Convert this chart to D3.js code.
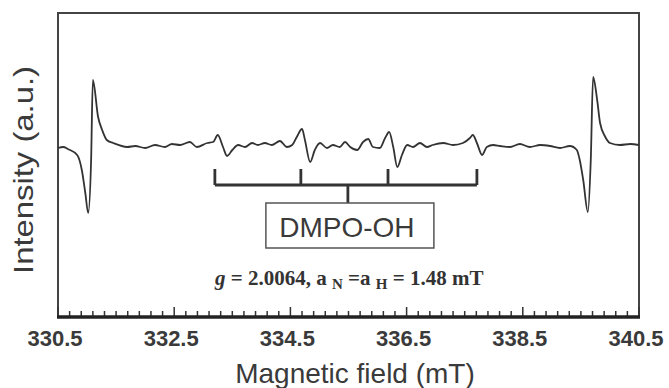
<!DOCTYPE html>
<html>
<head>
<meta charset="utf-8">
<script src="https://cdn.jsdelivr.net/npm/d3@7"></script>
<style>
  body { margin: 0; background: #fff; }
  svg { display: block; }
</style>
</head>
<body>
<svg id="chart"></svg>
<script>
// spectrum: field (mT) and intensity (a.u.)
var field = [330.50, 330.59, 330.67, 330.83, 330.91, 330.97, 331.02, 331.07, 331.10, 331.19,
  331.26, 331.34, 331.45, 331.69, 331.83, 332.00, 332.17, 332.34, 332.46, 332.60,
  332.77, 332.89, 333.07, 333.17, 333.25, 333.34, 333.41, 333.50, 333.60, 333.72,
  333.84, 333.94, 334.06, 334.18, 334.32, 334.44, 334.53, 334.61, 334.70, 334.75,
  334.84, 334.92, 335.01, 335.13, 335.23, 335.35, 335.44, 335.53, 335.65, 335.75,
  335.84, 335.92, 336.04, 336.13, 336.20, 336.27, 336.34, 336.42, 336.51, 336.61,
  336.73, 336.85, 336.95, 337.13, 337.30, 337.47, 337.59, 337.64, 337.71, 337.80,
  337.88, 337.99, 338.11, 338.28, 338.45, 338.62, 338.80, 338.97, 339.14, 339.31,
  339.43, 339.48, 339.54, 339.62, 339.67, 339.71, 339.78, 339.83, 339.92, 340.00,
  340.17, 340.35, 340.50];
var intensity = [-0.1, 0.0, -0.2, -0.8, -2.3, -4.6, -6.6, -1.3, 6.7, 3.0,
  1.7, 0.7, 0.4, 0.0, 0.1, -0.1, 0.2, 0.0, 0.3, 0.2,
  0.5, 0.0, 0.4, 0.5, 1.2, 0.0, -0.9, -0.3, 0.2, 0.0,
  0.4, 0.2, 0.4, 0.2, 0.6, 0.0, 0.2, 1.0, 1.8, 0.7,
  -1.5, -0.3, 0.4, -0.1, 0.2, 0.0, 0.5, 0.0, -0.3, 0.5,
  0.8, 0.0, -0.1, 0.9, 1.5, 0.0, -2.0, -0.8, 0.2, 0.0,
  0.4, 0.0, 0.2, 0.4, 0.2, 0.4, 0.9, 1.2, 0.4, -0.8,
  0.0, 0.2, 0.1, 0.0, 0.3, 0.0, 0.2, 0.1, -0.1, 0.1,
  -0.3, -1.3, -3.3, -6.5, -1.3, 7.0, 4.7, 2.4, 1.0, 0.4,
  0.2, 0.3, 0.2];

// DMPO-OH quartet line positions (mT)
var dmpoLines = [333.20, 334.68, 336.18, 337.71];
var tickLabels = [330.5, 332.5, 334.5, 336.5, 338.5, 340.5];

var W = 669, H = 388;
var plotL = 58, plotR = 639, plotT = 13, plotB = 317;

var svg = d3.select("#chart")
    .attr("width", W)
    .attr("height", H);

svg.append("rect").attr("width", W).attr("height", H).attr("fill", "#fff");

var x = d3.scaleLinear().domain([330.5, 340.5]).range([plotL, plotR]);
var y = d3.scaleLinear().domain([-17, 13.4]).range([plotB, plotT]);

// frame
svg.append("rect")
    .attr("x", plotL).attr("y", plotT)
    .attr("width", plotR - plotL).attr("height", plotB - plotT)
    .attr("fill", "none")
    .attr("stroke", "#444")
    .attr("stroke-width", 2);

// bottom axis: minor ticks every 0.2 mT, longer at labelled values
var minor = d3.range(0, 51).map(function(i) { return 330.5 + i * 0.2; });
svg.append("g")
    .selectAll("line")
    .data(minor)
    .enter()
    .append("line")
    .attr("x1", function(d) { return x(d); })
    .attr("x2", function(d) { return x(d); })
    .attr("y1", plotB)
    .attr("y2", function(d, i) { return i % 10 == 0 ? plotB - 10 : plotB - 6; })
    .attr("stroke", "#333")
    .attr("stroke-width", 1.5);

svg.append("line")
    .attr("x1", plotL - 1).attr("x2", plotR + 1)
    .attr("y1", plotB).attr("y2", plotB)
    .attr("stroke", "#222")
    .attr("stroke-width", 3.5);

svg.append("g")
    .selectAll("text")
    .data(tickLabels)
    .enter()
    .append("text")
    .attr("x", function(d) { return x(d) - 3; })
    .attr("y", 346)
    .attr("text-anchor", "middle")
    .style("font-family", "Liberation Sans, Arial, sans-serif")
    .style("font-weight", "bold")
    .style("font-size", "22px")
    .attr("fill", "#3a3a3a")
    .text(function(d) { return d.toFixed(1); });

svg.append("text")
    .attr("x", 355)
    .attr("y", 383)
    .attr("text-anchor", "middle")
    .style("font-family", "Liberation Sans, Arial, sans-serif")
    .style("font-size", "28px")
    .attr("fill", "#3a3a3a")
    .text("Magnetic field (mT)");

svg.append("text")
    .attr("transform", "translate(33,170) rotate(-90)")
    .attr("text-anchor", "middle")
    .attr("textLength", 208)
    .attr("lengthAdjust", "spacingAndGlyphs")
    .style("font-family", "Liberation Sans, Arial, sans-serif")
    .style("font-size", "28px")
    .attr("fill", "#3a3a3a")
    .text("Intensity (a.u.)");

// spectrum
var pts = field.map(function(f, i) { return [f, intensity[i]]; });
var line = d3.line()
    .curve(d3.curveMonotoneX)
    .x(function(d) { return x(d[0]); })
    .y(function(d) { return y(d[1]); });

svg.append("path")
    .datum(pts)
    .attr("d", line)
    .attr("fill", "none")
    .attr("stroke", "#333")
    .attr("stroke-width", 1.8)
    .attr("stroke-linejoin", "round");

// DMPO-OH stick bracket
var yBar = y(-3.8), yTop = y(-2.2);
var br = svg.append("g").attr("stroke", "#333").attr("stroke-width", 2.8);
br.append("line")
    .attr("x1", x(dmpoLines[0])).attr("x2", x(dmpoLines[3]))
    .attr("y1", yBar).attr("y2", yBar);
br.selectAll("line.stick")
    .data(dmpoLines)
    .enter()
    .append("line")
    .attr("class", "stick")
    .attr("x1", function(d) { return x(d); })
    .attr("x2", function(d) { return x(d); })
    .attr("y1", yTop).attr("y2", yBar);

var cx = x((dmpoLines[0] + dmpoLines[3]) / 2) + 2;
br.append("line")
    .attr("x1", cx).attr("x2", cx)
    .attr("y1", yBar).attr("y2", 203);

svg.append("rect")
    .attr("x", cx - 82).attr("y", 203)
    .attr("width", 168).attr("height", 45)
    .attr("fill", "#fff")
    .attr("stroke", "#555")
    .attr("stroke-width", 1.5);

svg.append("text")
    .attr("x", cx - 1)
    .attr("y", 237)
    .attr("text-anchor", "middle")
    .style("font-family", "Liberation Sans, Arial, sans-serif")
    .style("font-size", "28px")
    .attr("fill", "#3a3a3a")
    .text("DMPO-OH");

// parameters
var g = svg.append("text")
    .attr("x", 215)
    .attr("y", 285)
    .style("font-family", "Liberation Serif, Times New Roman, serif")
    .style("font-weight", "bold")
    .style("font-size", "21px")
    .attr("fill", "#333");
g.append("tspan").style("font-style", "italic").text("g");
g.append("tspan").text(" = 2.0064, a ");
g.append("tspan").attr("dy", 4).style("font-size", "15px").text("N");
g.append("tspan").attr("dy", -4).text(" =a ");
g.append("tspan").attr("dy", 4).style("font-size", "15px").text("H");
g.append("tspan").attr("dy", -4).text(" = 1.48 mT");
</script>
</body>
</html>
